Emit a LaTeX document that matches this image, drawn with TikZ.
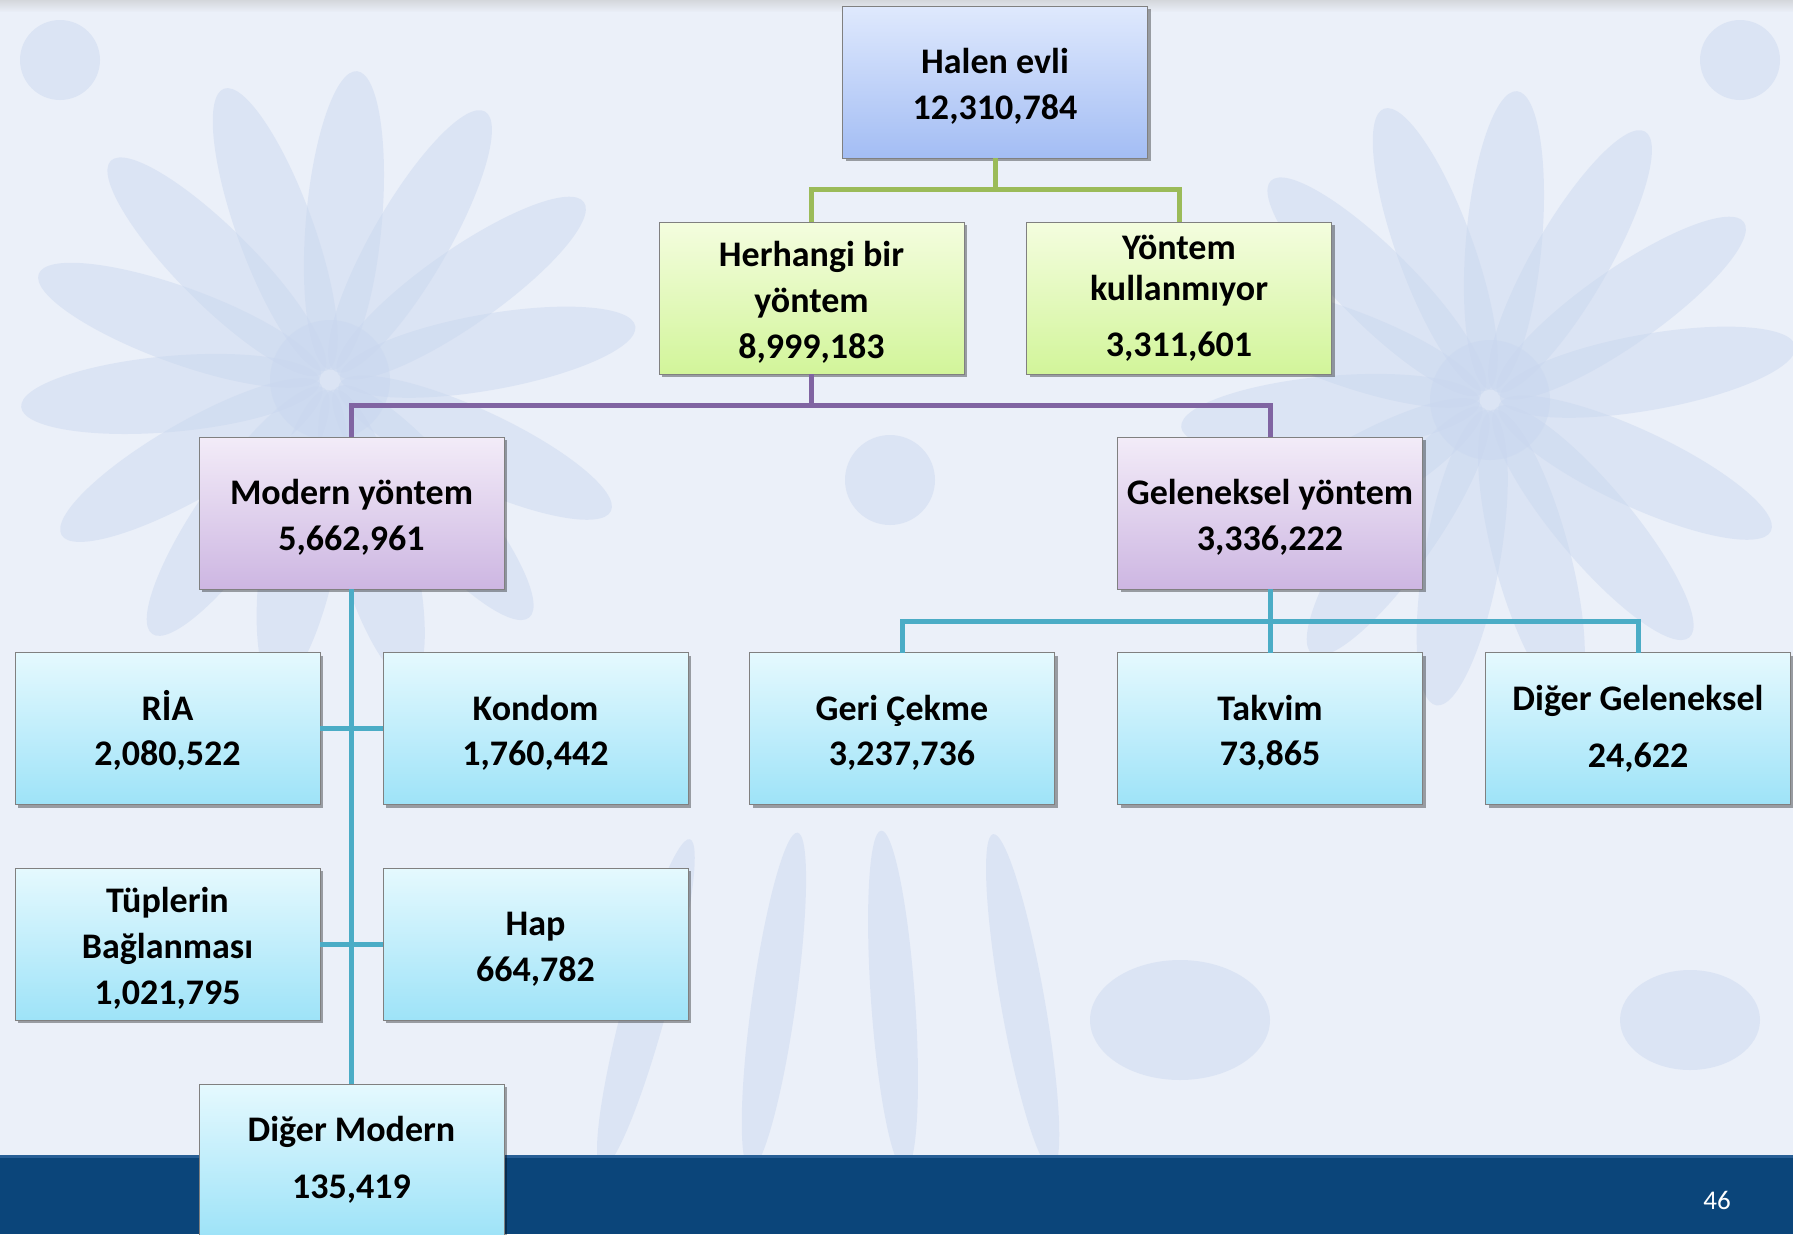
\documentclass[tikz,border=0pt]{standalone}
\usepackage{fontspec}
\setmainfont{Carlito}
\usetikzlibrary{shadows}
\definecolor{bgc}{HTML}{EBF0F9}
\definecolor{decoc}{HTML}{C9D7EF}
\definecolor{barc}{HTML}{0B457A}
\definecolor{barl}{HTML}{285F96}
\definecolor{gline}{HTML}{9BBB59}
\definecolor{pline}{HTML}{8064A2}
\definecolor{tline}{HTML}{4BACC6}
\definecolor{bluet}{HTML}{DFE9FD}
\definecolor{blueb}{HTML}{A3BDF4}
\definecolor{greent}{HTML}{F4FDDF}
\definecolor{greenb}{HTML}{D2F59A}
\definecolor{purpt}{HTML}{F3ECF8}
\definecolor{purpb}{HTML}{CDB6E2}
\definecolor{tealt}{HTML}{E5F9FE}
\definecolor{tealb}{HTML}{9EE3F8}
\newcommand\boxfont{\fontsize{36}{45.7}\selectfont\bfseries}
\newcommand\toppad{\rule{0pt}{34pt}}
\tikzset{
  orgbox/.style={draw=black!50, line width=1pt, minimum width=305pt, minimum height=152pt,
    inner sep=0pt, outer sep=0pt, align=center, font=\boxfont,
    drop shadow={shadow xshift=3pt, shadow yshift=-3pt, opacity=0.35, fill=black}},
  bluebox/.style={orgbox, top color=bluet, bottom color=blueb},
  greenbox/.style={orgbox, top color=greent, bottom color=greenb},
  purplebox/.style={orgbox, top color=purpt, bottom color=purpb},
  tealbox/.style={orgbox, top color=tealt, bottom color=tealb},
  conn/.style={line width=5pt},
  deco/.style={fill=decoc, opacity=0.45}
}
\begin{document}
\begin{tikzpicture}[x=1pt,y=-1pt]
\useasboundingbox (0,0) rectangle (1793,1234);
% background
\fill[bgc] (0,0) rectangle (1793,1234);
\shade[top color=black!25, bottom color=bgc, opacity=0.5] (0,0) rectangle (1793,12);
% faint floral decoration
\foreach \a in {-80,-55,...,260} {
  \fill[deco, rotate around={\a:(330,380)}] (330,220) ellipse (38pt and 150pt);
  \fill[deco, rotate around={\a:(1490,400)}] (1490,240) ellipse (38pt and 150pt);
}
\fill[deco] (330,380) circle (60pt);
\fill[deco] (1490,400) circle (60pt);
\foreach \x/\r in {760/-8,900/4,1040/10,620/-15} {
  \fill[deco, rotate around={\r:(\x,1100)}] (\x,1000) ellipse (22pt and 170pt);
}
\fill[deco] (890,480) circle (45pt);
\fill[deco] (1180,1020) ellipse (90pt and 60pt);
\fill[deco] (1690,1020) ellipse (70pt and 50pt);
\fill[deco] (60,60) circle (40pt);
\fill[deco] (1740,60) circle (40pt);
% bottom bar
\fill[barc] (0,1155) rectangle (1793,1234);
\fill[barl] (0,1155) rectangle (1793,1158);
\node[text=white, font=\fontsize{27}{30}\selectfont, inner sep=0pt] (pnum) at (1717,1200) {46};
% nodes
\node[bluebox] (halen) at (995,82) {\toppad Halen evli\\12,310,784};
\node[greenbox] (herh) at (811.5,298) {\toppad Herhangi bir\\yöntem\\8,999,183};
\node[greenbox] (yont) at (1179,298) {Yöntem\\[-4pt]kullanmıyor\\[10pt]3,311,601};
\node[purplebox] (modern) at (351.5,513) {\toppad Modern yöntem\\5,662,961};
\node[purplebox] (gelen) at (1270,513) {\toppad Geleneksel yöntem\\3,336,222};
\node[tealbox] (ria) at (167.5,728.5) {\toppad RİA\\2,080,522};
\node[tealbox] (kondom) at (535.5,728.5) {\toppad Kondom\\1,760,442};
\node[tealbox] (geri) at (902,728.5) {\toppad Geri Çekme\\3,237,736};
\node[tealbox] (takvim) at (1270,728.5) {\toppad Takvim\\73,865};
\node[tealbox] (digg) at (1638,728.5) {Diğer Geleneksel\\[11pt]24,622};
\node[tealbox] (tup) at (167.5,944) {\toppad Tüplerin\\Bağlanması\\1,021,795};
\node[tealbox] (hap) at (535.5,944) {\toppad Hap\\664,782};
% connectors
\coordinate (gj) at (995,189);
\coordinate (pj) at (811.5,405);
\coordinate (tj) at (1270,621);
\draw[conn, gline] (halen.south) -- (gj);
\draw[conn, gline] (herh.north) -- (herh.north |- gj) -- (yont.north |- gj) -- (yont.north);
\draw[conn, pline] (herh.south) -- (pj);
\draw[conn, pline] (modern.north) -- (modern.north |- pj) -- (gelen.north |- pj) -- (gelen.north);
\draw[conn, tline] (gelen.south) -- (tj);
\draw[conn, tline] (geri.north) -- (geri.north |- tj) -- (digg.north |- tj) -- (digg.north);
\draw[conn, tline] (takvim.north) -- (tj);
\draw[conn, tline] (ria.east) -- (kondom.west);
\draw[conn, tline] (tup.east) -- (hap.west);
\node[tealbox, anchor=north] (digm) at (351.5,1084) {Diğer Modern\\[11pt]135,419};
\draw[conn, tline] (modern.south) -- (digm.north);
\end{tikzpicture}
\end{document}
